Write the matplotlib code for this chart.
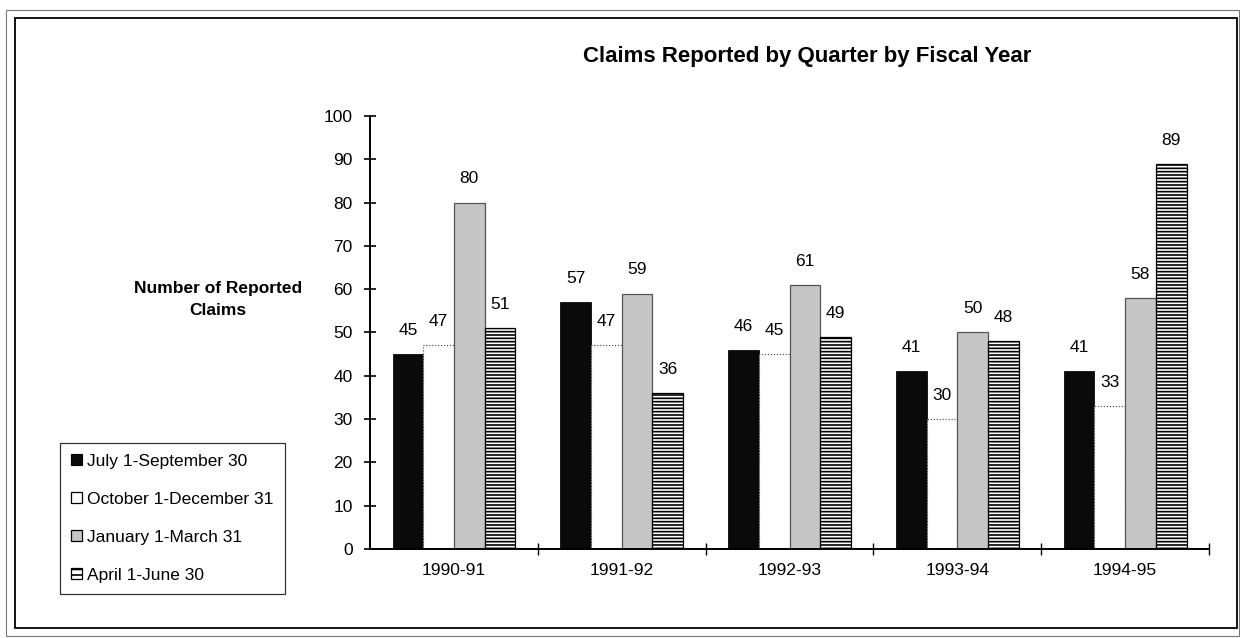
import numpy as np
import matplotlib
matplotlib.use('Agg')
import matplotlib.pyplot as plt
from matplotlib.patches import Rectangle, Patch

plt.rcParams['font.family'] = ['Liberation Sans', 'DejaVu Sans']
plt.rcParams['hatch.linewidth'] = 1.2

years = ['1990-91', '1991-92', '1992-93', '1993-94', '1994-95']
quarters = ['July 1-September 30', 'October 1-December 31',
            'January 1-March 31', 'April 1-June 30']
jul_sep = [45, 57, 46, 41, 41]
oct_dec = [47, 47, 45, 30, 33]
jan_mar = [80, 59, 61, 50, 58]
apr_jun = [51, 36, 49, 48, 89]
series = [jul_sep, oct_dec, jan_mar, apr_jun]

# bar looks, one per quarter
styles = [
    dict(color='#0a0a0a', edgecolor='#0a0a0a', linewidth=0.6),
    dict(color='white', edgecolor='#444444', linewidth=0.8, linestyle=':'),
    dict(color='#c6c6c6', edgecolor='#555555', linewidth=0.9),
    dict(color='white', edgecolor='black', linewidth=0.9, hatch='-----'),
]
# legend swatches (solid outlines, sparser stripes)
swatches = [
    dict(facecolor='#0a0a0a', edgecolor='black', linewidth=0.8),
    dict(facecolor='white', edgecolor='black', linewidth=0.9),
    dict(facecolor='#c6c6c6', edgecolor='black', linewidth=0.9),
    dict(facecolor='white', edgecolor='black', linewidth=0.9, hatch='---'),
]

fig = plt.figure(figsize=(12.4, 6.38), dpi=100)
ax = fig.add_axes([0.2984, 0.1395, 0.6766, 0.6787])

x = np.arange(len(years))
w = 0.183
for i, (vals, st) in enumerate(zip(series, styles)):
    pos = x + (i - 1.5) * w
    ax.bar(pos, vals, w, **st)
    for px, v in zip(pos, vals):
        ax.annotate(str(v), (px, v), xytext=(0, 17), textcoords='offset points',
                    ha='center', va='center', fontsize=12.5)

ax.set_xlim(-0.5, len(years) - 0.5)
ax.set_ylim(0, 100)
ax.set_yticks(range(0, 101, 10))
ax.set_xticks(np.arange(0.5, len(years), 1.0))
ax.set_xticklabels([])
ax.set_xticks(x, minor=True)
ax.set_xticklabels(years, minor=True)
ax.tick_params(axis='y', direction='inout', length=9, width=1.2, pad=8, labelsize=12.5)
ax.tick_params(axis='x', which='major', direction='inout', length=8, width=1.0)
ax.tick_params(axis='x', which='minor', length=0, pad=10, labelsize=12.5)
for s in ['top', 'right']:
    ax.spines[s].set_visible(False)
ax.spines['left'].set_linewidth(1.4)
ax.spines['bottom'].set_linewidth(1.4)

fig.text(0.651, 0.912, 'Claims Reported by Quarter by Fiscal Year',
         ha='center', va='center', fontsize=16, fontweight='bold')
fig.text(0.176, 0.530, 'Number of Reported\nClaims', ha='center', va='center',
         fontsize=12.5, fontweight='bold', linespacing=1.6)

handles = [Patch(label=q, **sw) for q, sw in zip(quarters, swatches)]
leg = fig.legend(handles=handles, loc='lower left', bbox_to_anchor=(0.0484, 0.069),
                 fontsize=12.5, frameon=True, fancybox=False, borderaxespad=0,
                 handlelength=0.6, handleheight=0.6, handletextpad=0.3,
                 labelspacing=1.32, borderpad=0.65)
leg.get_frame().set_edgecolor('black')
leg.get_frame().set_linewidth(0.9)

# double page frame around the chart
fig.patches.append(Rectangle((15 / 1240, 10 / 638), 1222 / 1240, 610 / 638,
                             transform=fig.transFigure, fill=False,
                             edgecolor='black', linewidth=1.3))
fig.patches.append(Rectangle((6 / 1240, 2 / 638), 1233 / 1240, 626 / 638,
                             transform=fig.transFigure, fill=False,
                             edgecolor='#777777', linewidth=0.8))

fig.savefig('out.png', dpi=100, facecolor='white')
